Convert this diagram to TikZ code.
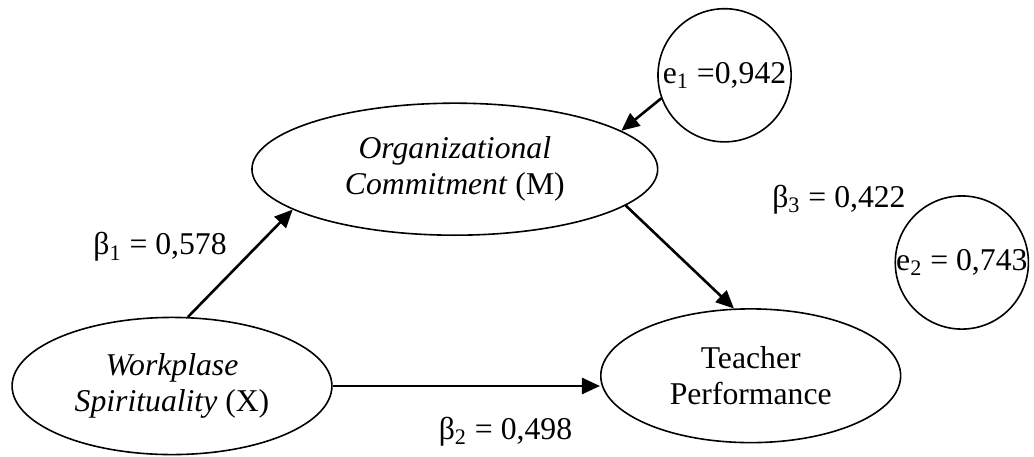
\documentclass[tikz,border=0pt]{standalone}
\usepackage{fontspec}
\setmainfont{Liberation Serif}
\usetikzlibrary{positioning,shapes.geometric,arrows.meta}

\begin{document}
\begin{tikzpicture}[
    font=\fontsize{15.85pt}{18pt}\selectfont,
    latent/.style={draw, ellipse, line width=0.8pt, inner sep=0pt, align=center},
    errc/.style={draw, circle, line width=0.8pt, inner sep=0pt, minimum size=2.34cm},
    path/.style={line width=1.3pt, -{Triangle[length=9pt,width=8pt]}},
    on grid
  ]
  \useasboundingbox (-86pt,-35pt) rectangle (431pt,193pt);

  % latent variables
  \node [latent, minimum width=5.62cm, minimum height=2.41cm] (X) at (0,0)
    {\textit{Workplase}\\\textit{Spirituality} (X)};
  \node [latent, minimum width=7.13cm, minimum height=2.32cm,
         above right=3.81cm and 4.97cm of X] (M)
    {\textit{Organizational}\\\textit{Commitment} (M)};
  \node [latent, minimum width=5.27cm, minimum height=2.35cm,
         above right=0.18cm and 10.17cm of X] (Y)
    {Teacher\\Performance};

  % error terms
  \node [errc, above right=1.65cm and 4.74cm of M, label=center:{e\textsubscript{1} =0,942}] (e1) {};
  \node [errc, above right=1.99cm and 3.71cm of Y, label=center:{e\textsubscript{2} = 0,743}] (e2) {};

  % coefficients
  \node [above left=2.44cm and 0.21cm of X] (b1) {β\textsubscript{1} = 0,578};
  \node [below left=0.98cm and 4.31cm of Y] (b2) {β\textsubscript{2} = 0,498};
  \node [above right=3.09cm and 1.55cm of Y] (b3) {β\textsubscript{3} = 0,422};

  \draw [path] (X.77) -- (M.194);
  \draw [path] (X.east) -- (X.east -| Y.west);
  \draw [path] (M.348) -- (Y.104);
  \draw [path] (e1.200) -- (M.13);
\end{tikzpicture}
\end{document}
